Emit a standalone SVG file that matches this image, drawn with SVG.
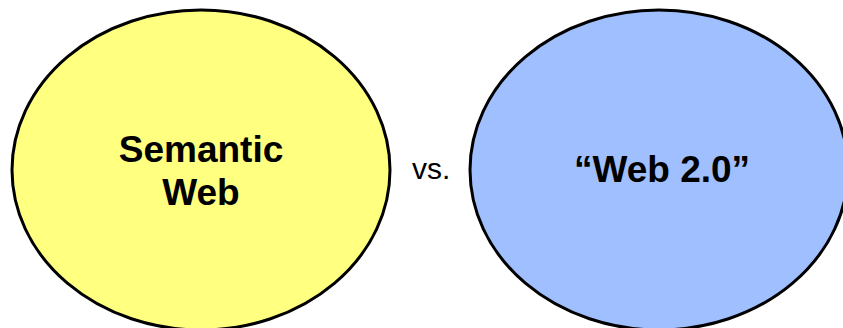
<svg xmlns="http://www.w3.org/2000/svg" width="843" height="328" viewBox="0 0 843 328">
<style>
.node{stroke:#000;stroke-width:3}
.lbl{font-family:"Liberation Sans",Arial,sans-serif;font-weight:bold;font-size:37px;text-anchor:middle;fill:#000}
.vs{font-family:"Liberation Sans",Arial,sans-serif;font-size:30px;fill:#000}
</style>
<rect width="843" height="328" fill="#fff"/>
<g id="semantic-web">
<ellipse class="node" cx="201" cy="170" rx="189" ry="160" fill="#ffff80"/>
<text class="lbl" x="201" y="162">Semantic</text>
<text class="lbl" x="201" y="205">Web</text>
</g>
<g id="vs">
<text class="vs" x="412" y="179">vs.</text>
</g>
<g id="web20">
<ellipse class="node" cx="659" cy="170" rx="189" ry="160" fill="#a0bfff"/>
<text class="lbl" x="662" y="182">“Web 2.0”</text>
</g>
<g id="connectors"></g>
</svg>
